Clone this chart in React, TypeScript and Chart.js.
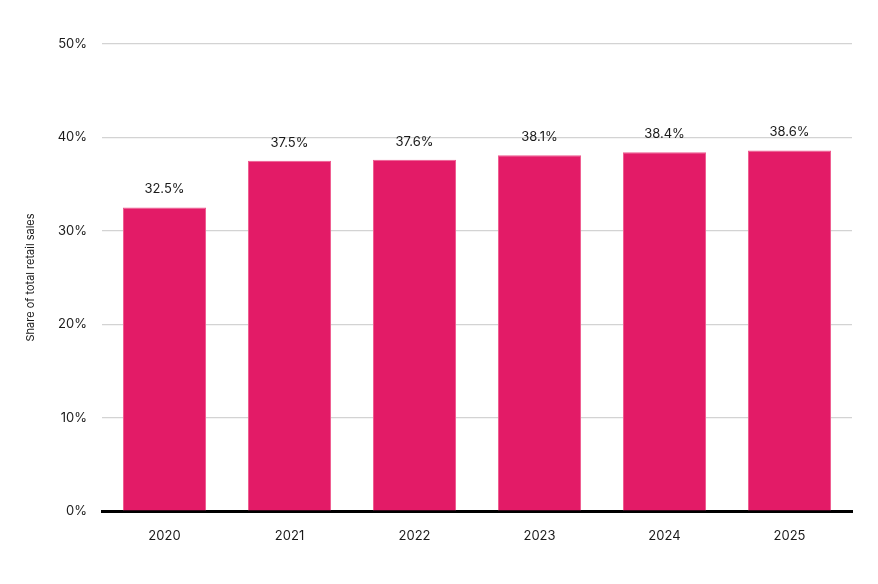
import React, { useEffect, useRef } from "react";
import { Chart, registerables } from "chart.js";

Chart.register(...registerables);

const years = ["2020", "2021", "2022", "2023", "2024", "2025"];
const shares = [32.5, 37.5, 37.6, 38.1, 38.4, 38.6];
const yTicks = [0, 10, 20, 30, 40, 50];
const axisTitle = "Share of total retail sales";

const FONT = "Inter, 'Noto Sans', sans-serif";

const labelPlugin = {
  id: "barLabels",
  afterDatasetsDraw(chart: any) {
    const { ctx } = chart;
    const meta = chart.getDatasetMeta(0);
    ctx.save();
    ctx.font = `13px ${FONT}`;
    ctx.fillStyle = "#1a1a1a";
    ctx.textAlign = "center";
    ctx.textBaseline = "middle";
    meta.data.forEach((bar: any, i: number) => {
      ctx.fillText(shares[i].toFixed(1) + "%", bar.x, bar.y - 18);
    });
    ctx.restore();
  },
};

export default function App() {
  const ref = useRef<HTMLCanvasElement>(null);
  useEffect(() => {
    document.body.style.margin = "0";
    const chart = new Chart(ref.current!, {
      type: "bar",
      data: {
        labels: years,
        datasets: [
          {
            data: shares,
            backgroundColor: "#E31B67",
            borderColor: "#EE5A8E",
            borderWidth: 1,
            barPercentage: 0.665,
            categoryPercentage: 1,
          },
        ],
      },
      options: {
        animation: false,
        responsive: false,
        maintainAspectRatio: false,
        layout: { padding: { top: 44, right: 26, left: 0, bottom: 0 } },
        plugins: { legend: { display: false }, tooltip: { enabled: false } },
        scales: {
          x: {
            grid: { display: false, drawTicks: false },
            border: { display: true, color: "#000000", width: 3 },
            ticks: { color: "#1a1a1a", font: { family: FONT, size: 13 }, padding: 17 },
            afterFit(scale: any) {
              scale.height = 73;
            },
          },
          y: {
            min: 0,
            max: 50,
            afterBuildTicks(scale: any) {
              scale.ticks = yTicks.map((v) => ({ value: v }));
            },
            grid: { color: "#d3d3d3", lineWidth: 1.2, drawTicks: false },
            border: { display: false },
            ticks: {
              color: "#1a1a1a",
              font: { family: FONT, size: 13 },
              padding: 15,
              callback: (v: any) => v + "%",
            },
            title: {
              display: true,
              text: axisTitle,
              color: "#1a1a1a",
              font: { family: FONT, size: 11 },
              padding: { top: 24, bottom: 0 },
            },
            afterFit(scale: any) {
              scale.width = 102;
            },
          },
        },
      },
      plugins: [labelPlugin],
    });
    return () => chart.destroy();
  }, []);
  return (
    <div style={{ width: 878, height: 584 }}>
      <canvas ref={ref} width={878} height={584} style={{ display: "block" }} />
    </div>
  );
}
